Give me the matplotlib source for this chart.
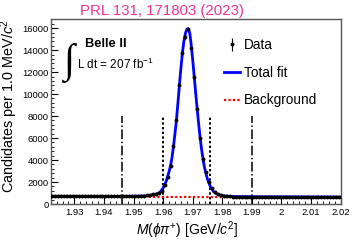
import matplotlib
matplotlib.use("Agg")
import matplotlib.pyplot as plt
import numpy as np
from matplotlib.ticker import MultipleLocator, FuncFormatter

plt.rcParams['font.family'] = ['Liberation Sans', 'DejaVu Sans']
plt.rcParams['mathtext.fontset'] = 'custom'
plt.rcParams['mathtext.rm'] = 'Liberation Sans'
plt.rcParams['mathtext.it'] = 'Liberation Sans:italic'
plt.rcParams['mathtext.bf'] = 'Liberation Sans:bold'

# data: 1 MeV bins from 1.922 to 2.020 GeV
mass = np.arange(98) * 0.001 + 1.9225
counts = [
    710, 700, 720, 695, 705, 700, 715, 690, 705, 695,
    700, 690, 705, 690, 700, 685, 700, 690, 695, 685,
    690, 700, 685, 695, 690, 705, 695, 705, 715, 725,
    740, 760, 790, 820, 870, 930, 1030, 1210, 1730, 2490,
    3460, 5280, 7650, 10840, 13720, 15180, 15900, 14180, 11590, 8650,
    6040, 4070, 2940, 2030, 1450, 1100, 910, 800, 740, 710,
    690, 680, 675, 670, 665, 670, 660, 665, 655, 660,
    650, 660, 655, 650, 645, 655, 650, 640, 650, 645,
    640, 650, 640, 635, 645, 640, 635, 640, 630, 640,
    635, 630, 640, 630, 625, 635, 630, 625,
]
errors = np.sqrt(counts)

# total fit
fit_mass = [1.922, 1.935, 1.945, 1.950, 1.953, 1.955, 1.957, 1.958, 1.959, 1.960,
            1.961, 1.9615, 1.962, 1.9625, 1.963, 1.9635, 1.964, 1.9645, 1.965, 1.9655,
            1.966, 1.9665, 1.967, 1.9675, 1.968, 1.9685, 1.969, 1.9695, 1.970, 1.9705,
            1.971, 1.9715, 1.972, 1.9725, 1.973, 1.9735, 1.974, 1.9745, 1.975, 1.976,
            1.977, 1.978, 1.979, 1.980, 1.982, 1.985, 1.990, 2.000, 2.020]
fit_counts = [705, 697, 692, 705, 730, 770, 850, 930, 1080, 1450,
              2050, 2480, 2950, 3480, 4250, 5250, 6400, 7650, 9200, 10800,
              12350, 13700, 14800, 15500, 15900, 15950, 15550, 14450, 13100, 11600,
              10100, 8650, 7300, 6050, 4950, 4050, 3300, 2750, 2250, 1550,
              1150, 940, 820, 760, 700, 675, 665, 655, 635]

# background
bkg_mass = [1.922, 1.970, 2.020]
bkg_counts = [665, 635, 605]

# signal / sideband windows
sideband_edges = [1.946, 1.990]
signal_edges = [1.960, 1.976]
window_height = 8000

fig = plt.figure(figsize=(3.53, 2.42), dpi=100)
ax = fig.add_axes([0.1436, 0.157, 0.8215, 0.763])

fit_line, = ax.plot(fit_mass, fit_counts, color='#0000ff', lw=2.0, zorder=2)
bkg_line, = ax.plot(bkg_mass, bkg_counts, color='#ff0000', lw=1.6, ls=(0, (1, 1)), zorder=3)
data = ax.errorbar(mass, counts, yerr=errors, fmt='o', color='black', ms=1.8,
                   elinewidth=0.8, capsize=0, zorder=4)

ax.vlines(sideband_edges, 0, window_height, color='black', lw=1.1, ls='-.', zorder=1)
ax.vlines(signal_edges, 0, window_height, color='black', lw=1.4, ls=(0, (1.2, 1.2)), zorder=1)

ax.set_xlim(1.922, 2.02)
ax.set_ylim(0, 16800)

ax.xaxis.set_major_locator(MultipleLocator(0.01))
ax.xaxis.set_minor_locator(MultipleLocator(0.002))
ax.yaxis.set_major_locator(MultipleLocator(2000))
ax.yaxis.set_minor_locator(MultipleLocator(400))
ax.xaxis.set_major_formatter(FuncFormatter(lambda v, p: '%g' % round(v, 3)))
ax.tick_params(which='both', direction='in', labelsize=6.8, top=False, right=False)
ax.tick_params(which='major', length=5, width=0.8)
ax.tick_params(which='minor', length=2.5, width=0.6)
ax.tick_params(axis='x', pad=3)
ax.tick_params(axis='y', pad=1.5)
for s in ax.spines.values():
    s.set_color('#555555')
    s.set_linewidth(1.0)

ax.set_ylabel(r'Candidates per 1.0 MeV/$c^2$', fontsize=10.4, loc='top')
ax.yaxis.set_label_coords(-0.105, 1.0)
ax.set_xlabel(r'$M(\phi\pi^{+})$ [GeV/$c^2$]', fontsize=10)
ax.xaxis.set_label_coords(0.47, -0.085)

fig.text(0.46, 0.985, 'PRL 131, 171803 (2023)', color='#ee3399', fontsize=10.8,
         ha='center', va='top')

ax.text(0.118, 0.85, 'Belle II', transform=ax.transAxes, fontsize=9.3, fontweight='bold')
ax.text(0.042, 0.715, '\u222b', transform=ax.transAxes, fontsize=29,
        family=['Liberation Serif', 'DejaVu Sans'])
ax.text(0.09, 0.73, r'L dt = 207 fb$^{-1}$', transform=ax.transAxes, fontsize=8.5)

ax.legend([data, fit_line, bkg_line], ['Data', 'Total fit', 'Background'],
          loc='upper left', bbox_to_anchor=(0.555, 0.965), frameon=False,
          fontsize=9.8, handlelength=1.2, handletextpad=0.3, labelspacing=1.0)

fig.savefig('out.png', dpi=100)
